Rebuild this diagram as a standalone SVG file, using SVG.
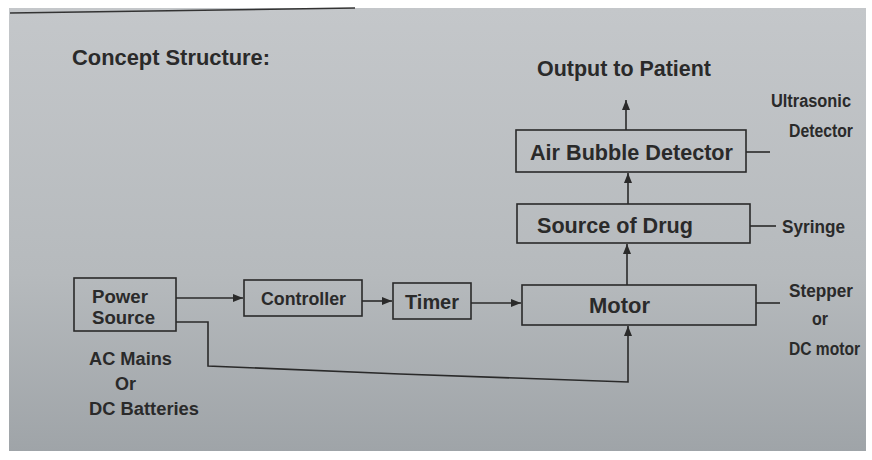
<svg xmlns="http://www.w3.org/2000/svg" width="872" height="460" viewBox="0 0 872 460">
<defs>
<linearGradient id="bg" x1="0" y1="0" x2="0" y2="1">
<stop offset="0" stop-color="#c4c7ca"/>
<stop offset="0.6" stop-color="#b6babd"/>
<stop offset="1" stop-color="#9fa4a8"/>
</linearGradient>
<marker id="ah" viewBox="0 0 10 10" refX="10" refY="5" markerWidth="10" markerHeight="10" markerUnits="userSpaceOnUse" orient="auto">
<path d="M0,1 L10,5 L0,9 Z" fill="#2a2a2a"/>
</marker>
<style>
.box{fill:none;stroke:#2a2a2a;stroke-width:1.6}
.ln{fill:none;stroke:#2a2a2a;stroke-width:1.6}
.t{font-family:"Liberation Sans",Arial,sans-serif;font-weight:bold;fill:#2a2a2a}
.s{font-family:"Liberation Sans",Arial,sans-serif;font-weight:bold;font-size:18px;fill:#2a2a2a}
</style>
</defs>
<rect width="872" height="460" fill="#ffffff"/>
<rect x="9" y="8" width="857" height="443" fill="url(#bg)"/>
<path d="M10,13 Q180,10 355,8" fill="none" stroke="#333" stroke-width="1.5"/>
<text class="t" x="72" y="65" font-size="21.5" textLength="198" lengthAdjust="spacingAndGlyphs">Concept Structure:</text>
<text class="t" x="537" y="76" font-size="21.5" textLength="174" lengthAdjust="spacingAndGlyphs">Output to Patient</text>

<g id="power">
<rect class="box" x="74" y="278" width="102" height="53"/>
<text class="t" x="92" y="303" font-size="18" textLength="56" lengthAdjust="spacingAndGlyphs">Power</text>
<text class="t" x="92" y="324" font-size="18" textLength="63" lengthAdjust="spacingAndGlyphs">Source</text>
</g>
<g id="power-note">
<text class="t" x="89" y="365" font-size="18" textLength="83" lengthAdjust="spacingAndGlyphs">AC Mains</text>
<text class="t" x="115" y="390" font-size="18">Or</text>
<text class="t" x="89" y="415" font-size="18" textLength="110" lengthAdjust="spacingAndGlyphs">DC Batteries</text>
</g>
<g id="controller">
<rect class="box" x="244" y="280" width="118" height="36"/>
<text class="t" x="261" y="305" font-size="18" textLength="85" lengthAdjust="spacingAndGlyphs">Controller</text>
</g>
<g id="timer">
<rect class="box" x="393" y="283" width="78" height="36"/>
<text class="t" x="405" y="309" font-size="20" textLength="54" lengthAdjust="spacingAndGlyphs">Timer</text>
</g>
<g id="motor">
<rect class="box" x="522" y="285" width="234" height="40"/>
<text class="t" x="589" y="313" font-size="22" textLength="61" lengthAdjust="spacingAndGlyphs">Motor</text>
</g>
<g id="drug">
<rect class="box" x="517" y="204" width="233" height="39"/>
<text class="t" x="537" y="233" font-size="21.6" textLength="156" lengthAdjust="spacingAndGlyphs">Source of Drug</text>
</g>
<g id="bubble">
<rect class="box" x="516" y="130" width="230" height="42"/>
<text class="t" x="530" y="160" font-size="21.6" textLength="203" lengthAdjust="spacingAndGlyphs">Air Bubble Detector</text>
</g>
<g id="labels">
<text class="s" x="771" y="107" textLength="80" lengthAdjust="spacingAndGlyphs">Ultrasonic</text>
<text class="s" x="789" y="137" textLength="64" lengthAdjust="spacingAndGlyphs">Detector</text>
<text class="s" x="782" y="233" textLength="63" lengthAdjust="spacingAndGlyphs">Syringe</text>
<text class="s" x="789" y="297" textLength="64" lengthAdjust="spacingAndGlyphs">Stepper</text>
<text class="s" x="812" y="325" textLength="16" lengthAdjust="spacingAndGlyphs">or</text>
<text class="s" x="789" y="355" textLength="71" lengthAdjust="spacingAndGlyphs">DC motor</text>
</g>
<g id="connectors">
<line class="ln" x1="176" y1="298" x2="243" y2="298" marker-end="url(#ah)"/>
<line class="ln" x1="362" y1="301" x2="392" y2="301" marker-end="url(#ah)"/>
<line class="ln" x1="471" y1="303" x2="521" y2="303" marker-end="url(#ah)"/>
<polyline class="ln" points="176,322 208,322 208,366 400,374 628,382 628,326" marker-end="url(#ah)"/>
<line class="ln" x1="627" y1="285" x2="627" y2="244" marker-end="url(#ah)"/>
<line class="ln" x1="628" y1="204" x2="628" y2="173" marker-end="url(#ah)"/>
<line class="ln" x1="626" y1="130" x2="626" y2="100" marker-end="url(#ah)"/>
<line class="ln" x1="746" y1="152" x2="770" y2="152"/>
<line class="ln" x1="750" y1="226" x2="776" y2="226"/>
<line class="ln" x1="756" y1="303" x2="780" y2="303"/>
</g>
</svg>
